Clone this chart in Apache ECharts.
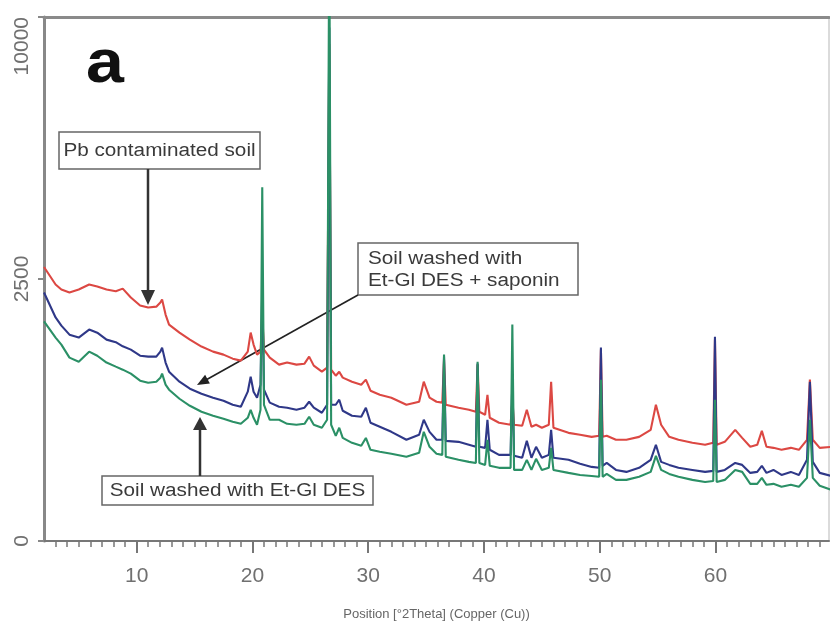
<!DOCTYPE html>
<html>
<head>
<meta charset="utf-8">
<script src="https://cdn.jsdelivr.net/npm/echarts@6/dist/echarts.min.js"></script>
<style>
html,body{margin:0;padding:0;background:#fff;}
#chart{width:830px;height:627px;}
</style>
</head>
<body>
<div id="chart"></div>
<script>
// Position in degrees 2-theta (shared by all three patterns)
const twoTheta = [
  2, 3, 3.5, 4.2, 5, 5.9, 6.6, 7.4, 8.2, 8.8,
  9.5, 10.3, 11, 11.7, 12.05, 12.2, 12.5, 12.8, 13.7, 14.6,
  15.6, 16.6, 17.5, 18.3, 19.0, 19.6, 19.85, 20.1, 20.4, 20.7,
  20.85, 21.0, 21.5, 22.3, 23.0, 23.8, 24.5, 24.9, 25.3, 26.0,
  26.45, 26.64, 26.8, 27.2, 27.5, 27.8, 28.6, 29.4, 29.8, 30.2,
  31.0, 32.0, 33.3, 34.4, 34.8, 35.3, 35.9, 36.4, 36.55, 36.7,
  37.8, 38.7, 39.3, 39.45, 39.6, 40.1, 40.3, 40.5, 41.3, 42.3,
  42.45, 42.6, 43.3, 43.7, 44.1, 44.5, 45.0, 45.6, 45.8, 46.0,
  47.3, 48.3, 49.3, 49.95, 50.1, 50.25, 50.6, 51.4, 52.3, 53.4,
  54.4, 54.85, 55.3, 56.0, 56.8, 58.0, 59.1, 59.8, 59.95, 60.1,
  60.8, 61.7, 62.3, 63.0, 63.6, 64.0, 64.4, 65.0, 65.7, 66.5,
  67.2, 67.9, 68.15, 68.4, 69.0, 70
];

// Counts: Pb contaminated soil (red)
const countsPbSoil = [
  2735, 2396, 2303, 2250, 2303, 2396, 2360, 2303, 2270, 2320,
  2160, 2020, 1985, 2000, 2070, 2123, 1867, 1706, 1582, 1477,
  1377, 1306, 1265, 1211, 1185, 1306, 1582, 1405, 1265, 1306,
  1867, 1334, 1225, 1133, 1160, 1133, 1145, 1238, 1120, 1044,
  1095, 9000, 1069, 995, 1044, 972, 924, 890, 948, 823,
  779, 748, 676, 706, 924, 748, 706, 697, 1198, 676,
  647, 627, 608, 1133, 608, 580, 779, 553, 509, 492,
  727, 492, 484, 627, 475, 492, 467, 492, 924, 467,
  426, 411, 395, 403, 1334, 395, 403, 373, 373, 395,
  450, 676, 492, 395, 373, 351, 337, 351, 1477, 337,
  358, 450, 387, 323, 337, 442, 323, 316, 303, 316,
  303, 373, 948, 373, 316, 323
];

// Counts: soil washed with Et-Gl DES + saponin (blue)
const countsDesSaponin = [
  2250, 1820, 1690, 1551, 1507, 1628, 1580, 1477, 1440, 1380,
  1334, 1250, 1238, 1238, 1306, 1362, 1160, 1044, 924, 845,
  790, 748, 717, 676, 656, 812, 983, 812, 748, 890,
  2303, 834, 697, 656, 647, 627, 647, 706, 647, 599,
  676, 9600, 676, 676, 727, 618, 571, 562, 647, 509,
  475, 434, 373, 411, 535, 434, 373, 373, 1238, 365,
  358, 337, 323, 1146, 323, 316, 535, 303, 270, 270,
  948, 265, 252, 365, 252, 323, 252, 270, 450, 252,
  240, 217, 200, 195, 1362, 206, 222, 184, 174, 195,
  240, 337, 228, 211, 195, 184, 174, 179, 1521, 174,
  184, 222, 211, 169, 174, 206, 169, 184, 159, 174,
  159, 240, 924, 228, 169, 154
];

// Counts: soil washed with Et-Gl DES (green)
const countsDes = [
  1755, 1507, 1405, 1225, 1171, 1306, 1250, 1160, 1107, 1069,
  1020, 936, 913, 924, 970, 1020, 890, 834, 737, 666,
  608, 571, 544, 518, 500, 553, 627, 553, 492, 627,
  4556, 676, 535, 535, 500, 492, 500, 562, 492, 467,
  535, 14000, 492, 403, 467, 387, 351, 330, 387, 303,
  290, 277, 258, 283, 434, 323, 277, 270, 1265, 258,
  240, 228, 222, 1171, 222, 211, 373, 206, 195, 195,
  1706, 184, 184, 240, 184, 246, 184, 195, 316, 184,
  169, 159, 154, 150, 948, 150, 164, 136, 136, 150,
  174, 264, 184, 164, 150, 136, 127, 131, 727, 127,
  136, 184, 174, 119, 119, 145, 115, 119, 107, 115,
  107, 145, 535, 145, 111, 95
];

const xTickLabels = [10, 20, 30, 40, 50, 60];
const yTickLabels = [0, 2500, 10000];
const seriesNames = ['Pb contaminated soil', 'Soil washed with Et-Gl DES + saponin', 'Soil washed with Et-Gl DES'];

const xMin = 2, xMax = 69.8;
const minorTicks = [];
for (let v = 3; v <= 69; v++) minorTicks.push(v);

// square-root intensity scale
const toSqrt = arr => twoTheta.map((t, i) => [t, Math.sqrt(arr[i])]);

const chart = echarts.init(document.getElementById('chart'), null, {renderer: 'canvas'});
const FONT = 'Arial, "Liberation Sans", sans-serif';
const txtStyle = (text, extra) => Object.assign({text: text, fill: '#3a3a3a', fontSize: 18, fontFamily: FONT}, extra || {});

chart.setOption({
  backgroundColor: '#ffffff',
  animation: false,
  grid: {left: 44, right: 1, top: 17, bottom: 86, containLabel: false, outerBoundsMode: 'none'},
  xAxis: [
    {
      type: 'value', position: 'bottom', min: xMin, max: xMax,
      axisLine: {show: true, lineStyle: {color: '#777', width: 2}},
      axisTick: {show: true, customValues: xTickLabels, length: 12, lineStyle: {color: '#777', width: 2}},
      axisLabel: {customValues: xTickLabels, fontSize: 21, color: '#707070', fontFamily: FONT, margin: 25},
      splitLine: {show: false},
      name: 'Position [°2Theta] (Copper (Cu))',
      nameLocation: 'middle', nameGap: 67,
      nameTextStyle: {fontSize: 13, color: '#666', fontFamily: FONT}
    },
    {
      type: 'value', position: 'bottom', min: xMin, max: xMax,
      axisLine: {show: false},
      axisTick: {show: true, customValues: minorTicks, length: 6, lineStyle: {color: '#777', width: 1.5}},
      axisLabel: {show: false},
      splitLine: {show: false}
    },
    {
      type: 'value', position: 'top', min: xMin, max: xMax,
      axisLine: {show: true, lineStyle: {color: '#8a8a8a', width: 3}},
      axisTick: {show: false}, axisLabel: {show: false}, splitLine: {show: false}
    }
  ],
  yAxis: [
    {
      type: 'value', position: 'left', min: 0, max: Math.sqrt(10000),
      axisLine: {show: true, lineStyle: {color: '#888', width: 3}},
      axisTick: {show: true, customValues: yTickLabels.map(Math.sqrt), length: 6, lineStyle: {color: '#888', width: 2}},
      axisLabel: {
        customValues: yTickLabels.map(Math.sqrt), rotate: 90, fontSize: 21, color: '#707070', fontFamily: FONT, margin: 11,
        alignMaxLabel: 'right',
        formatter: v => String(Math.round(v * v))
      },
      splitLine: {show: false}
    },
    {
      type: 'value', position: 'right', min: 0, max: Math.sqrt(10000),
      axisLine: {show: true, lineStyle: {color: '#cfcfcf', width: 1.5}},
      axisTick: {show: false}, axisLabel: {show: false}, splitLine: {show: false}
    }
  ],
  series: [
    {name: seriesNames[0], type: 'line', data: toSqrt(countsPbSoil), showSymbol: false, clip: true,
     lineStyle: {color: '#dc4843', width: 2.1}, itemStyle: {color: '#dc4843'}},
    {name: seriesNames[1], type: 'line', data: toSqrt(countsDesSaponin), showSymbol: false, clip: true,
     lineStyle: {color: '#2f3888', width: 2.1}, itemStyle: {color: '#2f3888'}},
    {name: seriesNames[2], type: 'line', data: toSqrt(countsDes), showSymbol: false, clip: true,
     lineStyle: {color: '#2b9066', width: 2.1}, itemStyle: {color: '#2b9066'}}
  ],
  graphic: [
    {type: 'text', x: 105, y: 65, scaleX: 1.1, style: txtStyle('a', {fontSize: 62, fontWeight: 'bold', fill: '#111', align: 'center', verticalAlign: 'middle'})},
    // Pb contaminated soil
    {type: 'rect', shape: {x: 59, y: 132, width: 201, height: 37}, style: {fill: '#fff', stroke: '#666', lineWidth: 1.5}},
    {type: 'text', x: 159.5, y: 151, scaleX: 1.15, style: txtStyle('Pb contaminated soil', {align: 'center', verticalAlign: 'middle'})},
    {type: 'line', shape: {x1: 148, y1: 169, x2: 148, y2: 292}, style: {stroke: '#333', lineWidth: 2.5}},
    {type: 'polygon', shape: {points: [[141, 290], [155, 290], [148, 305]]}, style: {fill: '#333'}},
    // DES + saponin
    {type: 'rect', shape: {x: 358, y: 243, width: 220, height: 52}, style: {fill: '#fff', stroke: '#666', lineWidth: 1.5}},
    {type: 'text', x: 368, y: 259, scaleX: 1.15, style: txtStyle('Soil washed with', {align: 'left', verticalAlign: 'middle'})},
    {type: 'text', x: 368, y: 281, scaleX: 1.15, style: txtStyle('Et-Gl DES + saponin', {align: 'left', verticalAlign: 'middle'})},
    {type: 'line', shape: {x1: 358, y1: 295, x2: 205, y2: 380.5}, style: {stroke: '#222', lineWidth: 1.6}},
    {type: 'polygon', shape: {points: [[209.9, 383.5], [197, 385], [205.1, 374.7]]}, style: {fill: '#222'}},
    // DES
    {type: 'rect', shape: {x: 102, y: 476, width: 271, height: 29}, style: {fill: '#fff', stroke: '#666', lineWidth: 1.5}},
    {type: 'text', x: 237.5, y: 491, scaleX: 1.15, style: txtStyle('Soil washed with Et-Gl DES', {align: 'center', verticalAlign: 'middle'})},
    {type: 'line', shape: {x1: 200, y1: 476, x2: 200, y2: 428}, style: {stroke: '#333', lineWidth: 2.5}},
    {type: 'polygon', shape: {points: [[193, 430], [207, 430], [200, 417]]}, style: {fill: '#333'}}
  ]
});
</script>
</body>
</html>
